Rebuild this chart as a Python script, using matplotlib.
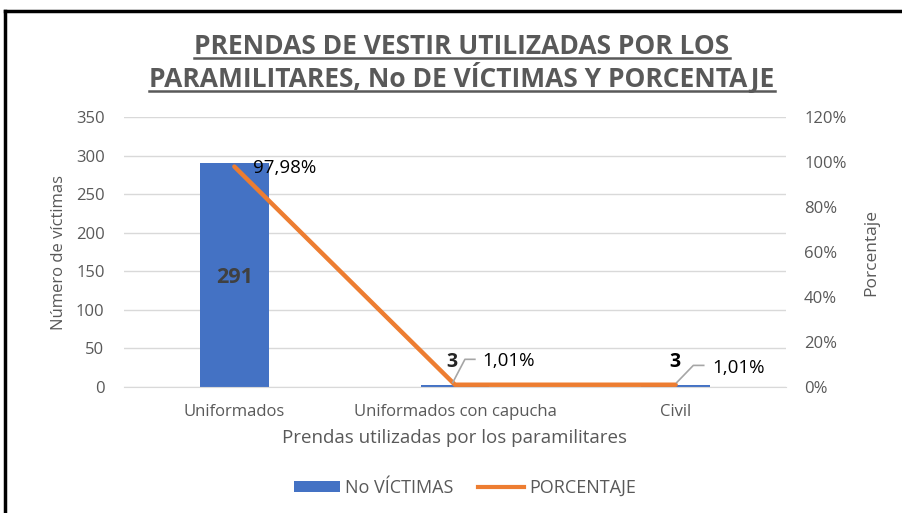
import matplotlib.pyplot as plt
from matplotlib.lines import Line2D
from matplotlib.ticker import FuncFormatter

plt.rcParams['font.family'] = ['Open Sans', 'DejaVu Sans']

categorias = ['Uniformados', 'Uniformados con capucha', 'Civil']
victimas = [291, 3, 3]
porcentaje = [97.98, 1.01, 1.01]
etiquetas_pct = ['97,98%', '1,01%', '1,01%']

azul = '#4472c4'
naranja = '#ed7d31'
gris = '#595959'

fig = plt.figure(figsize=(9.02, 5.13), dpi=100)
ax = fig.add_axes([124 / 902, 1 - 387 / 513, 662 / 902, 270 / 513])
ax2 = ax.twinx()

x = range(len(categorias))
barras = ax.bar(x, victimas, width=0.31, color=azul, zorder=2)
ax.set_ylim(0, 350)
ax.set_yticks(range(0, 351, 50))
ax.set_xlim(-0.5, 2.5)
ax.set_xticks(list(x))
ax.set_xticklabels(categorias)
ax.grid(axis='y', color='#d9d9d9', lw=1, zorder=0)
ax.set_axisbelow(True)

ax2.plot(x, porcentaje, color=naranja, lw=3.2, solid_capstyle='round', zorder=3)
ax2.set_ylim(0, 120)
ax2.set_yticks(range(0, 121, 20))
ax2.yaxis.set_major_formatter(FuncFormatter(lambda v, p: f'{v:.0f}%'))

for a in (ax, ax2):
    for s in a.spines.values():
        s.set_visible(False)
    a.tick_params(length=0, labelsize=12, labelcolor=gris)
ax.spines['bottom'].set_visible(True)
ax.spines['bottom'].set_color('#d9d9d9')
ax.tick_params(axis='y', pad=14)
ax.tick_params(axis='x', pad=12)
ax2.tick_params(axis='y', pad=13)

ax.set_ylabel('Número de víctimas', fontsize=12, color=gris, labelpad=6)
ax2.set_ylabel('Porcentaje', fontsize=12.5, color=gris, labelpad=12)
ax.set_xlabel('Prendas utilizadas por los paramilitares', fontsize=13.5, color=gris, labelpad=7)

# etiquetas de las barras
ax.text(0, victimas[0] / 2 - 4, str(victimas[0]), ha='center', va='center',
        fontsize=15.5, fontweight='bold', color='#404040', zorder=4)
ax2.text(0.086, porcentaje[0] - 0.8, etiquetas_pct[0], ha='left', va='center',
         fontsize=13.5, color='black', zorder=4)

# categoría 1: etiqueta con guía
ax2.text(1 - 0.014, 11.3, str(victimas[1]), ha='center', va='center',
         fontsize=14, fontweight='bold', color='#262626', zorder=4)
ax2.plot([1 - 0.01, 1 + 0.045, 1 + 0.09], [2, 12.3, 12.3],
         color='#a6a6a6', lw=1.2, zorder=4)
ax2.text(1 + 0.125, 11.6, etiquetas_pct[1], ha='left', va='center',
         fontsize=13.5, color='black', zorder=4)

# categoría 2
ax2.text(2 - 0.005, 11.3, str(victimas[2]), ha='center', va='center',
         fontsize=14, fontweight='bold', color='black', zorder=4)
ax2.plot([2 + 0.005, 2 + 0.08, 2 + 0.127], [2, 9.6, 9.6],
         color='#a6a6a6', lw=1.2, zorder=4)
ax2.text(2 + 0.168, 8.4, etiquetas_pct[2], ha='left', va='center',
         fontsize=13.5, color='black', zorder=4)

# título subrayado
lineas = ['PRENDAS DE VESTIR UTILIZADAS POR LOS',
          'PARAMILITARES, No DE VÍCTIMAS Y PORCENTAJE']
bases = [54, 87]
fig.canvas.draw()
r = fig.canvas.get_renderer()
for t, yb in zip(lineas, bases):
    txt = fig.text(462 / 902, 1 - yb / 513, t, ha='center', va='baseline',
                   fontsize=19, fontweight='bold', color=gris)
    bb = txt.get_window_extent(r).transformed(fig.transFigure.inverted())
    yl = 1 - (yb + 3.5) / 513
    fig.add_artist(Line2D([bb.x0, bb.x1], [yl, yl],
                          transform=fig.transFigure, color=gris, lw=1.8))

# leyenda
ax.legend([barras, Line2D([], [], color=naranja, lw=3)], ['No VÍCTIMAS', 'PORCENTAJE'],
          loc='center', bbox_to_anchor=(465 / 902, 1 - 488 / 513),
          bbox_transform=fig.transFigure, ncol=2, frameon=False, fontsize=13,
          labelcolor=gris, handlelength=2.55, handleheight=0.6,
          columnspacing=1.4, handletextpad=0.28)

# marco
fig.add_artist(Line2D([5 / 902, 1], [1 - 11 / 513, 1 - 11 / 513],
                      transform=fig.transFigure, color='black', lw=2.5))
fig.add_artist(Line2D([5 / 902, 5 / 902], [0, 1 - 11 / 513],
                      transform=fig.transFigure, color='black', lw=2.5))

fig.savefig('out.png', dpi=100)
